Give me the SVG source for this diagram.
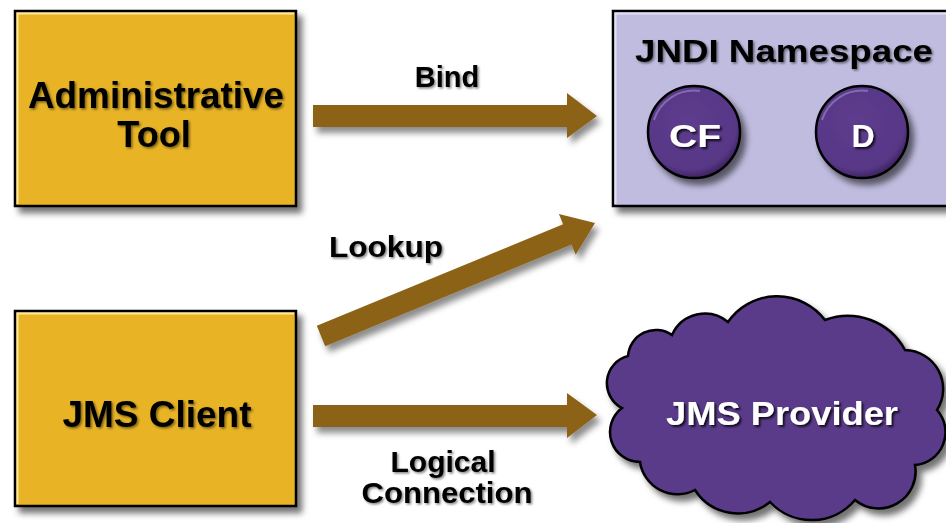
<svg xmlns="http://www.w3.org/2000/svg" width="946" height="523" viewBox="0 0 946 523">
  <style>
    .box { fill: #E8B428; stroke: #000; stroke-width: 2.5; }
    .jndi { fill: #C0BCDF; stroke: #000; stroke-width: 2.5; }
    .hl { fill: none; stroke: #FFF4C8; stroke-width: 2; opacity: 0.8; }
    .hlp { fill: none; stroke: #E6E3F6; stroke-width: 2; opacity: 0.9; }
    .arrow { fill: #8C6418; }
    .lbl { font-family: "Liberation Sans", Arial, Helvetica, sans-serif; font-weight: bold; fill: #000; text-anchor: middle; }
    .wlbl { font-family: "Liberation Sans", Arial, Helvetica, sans-serif; font-weight: bold; fill: #FFF; text-anchor: middle; }
    .obj { fill: url(#purpleGrad); stroke: #000; stroke-width: 2.5; }
  </style>
  <defs>
    <filter id="shadow" x="-10%" y="-10%" width="130%" height="130%">
      <feDropShadow dx="5" dy="6" stdDeviation="3" flood-color="#000" flood-opacity="0.55"/>
    </filter>
    <filter id="ashadow" x="-10%" y="-30%" width="130%" height="180%">
      <feDropShadow dx="4" dy="6" stdDeviation="3" flood-color="#000" flood-opacity="0.45"/>
    </filter>
    <filter id="tshadow" x="-10%" y="-20%" width="130%" height="160%">
      <feDropShadow dx="1.5" dy="1.5" stdDeviation="0.8" flood-color="#000" flood-opacity="0.5"/>
    </filter>
    <filter id="wtshadow" x="-10%" y="-20%" width="130%" height="160%">
      <feDropShadow dx="2" dy="2" stdDeviation="1" flood-color="#000" flood-opacity="0.8"/>
    </filter>
    <radialGradient id="purpleGrad" cx="0.45" cy="0.4" r="0.6">
      <stop offset="0" stop-color="#5E3C8E"/>
      <stop offset="0.85" stop-color="#573786"/>
      <stop offset="1" stop-color="#3E2462"/>
    </radialGradient>
  </defs>

  <g id="admin-tool">
    <rect class="box" x="15" y="11" width="281" height="195" filter="url(#shadow)"/>
    <path class="hl" d="M17.5 204 V13.5 H294"/>
    <g filter="url(#tshadow)">
      <text class="lbl" x="156" y="108" font-size="36" textLength="256" lengthAdjust="spacingAndGlyphs">Administrative</text>
      <text class="lbl" x="154" y="147" font-size="36">Tool</text>
    </g>
  </g>

  <g id="jms-client">
    <rect class="box" x="15" y="311" width="281" height="195" filter="url(#shadow)"/>
    <path class="hl" d="M17.5 504 V313.5 H294"/>
    <text class="lbl" x="157" y="427" font-size="36" textLength="189" lengthAdjust="spacingAndGlyphs" filter="url(#tshadow)">JMS Client</text>
  </g>

  <g id="jndi-namespace">
    <rect class="jndi" x="613" y="11" width="350" height="195" filter="url(#shadow)"/>
    <path class="hlp" d="M615.5 204 V13.5 H946"/>
    <text class="lbl" x="784" y="62" font-size="32" textLength="298" lengthAdjust="spacingAndGlyphs" filter="url(#tshadow)">JNDI Namespace</text>
  </g>

  <g id="cf">
    <circle class="obj" cx="694" cy="132" r="46" filter="url(#shadow)"/>
    <path d="M654 120 A42 42 0 0 1 700 91" fill="none" stroke="#8E78B4" stroke-width="2" opacity="0.8"/>
    <text class="wlbl" x="695" y="147" font-size="32" textLength="52" lengthAdjust="spacingAndGlyphs" filter="url(#wtshadow)">CF</text>
  </g>

  <g id="d">
    <circle class="obj" cx="862" cy="132" r="46" filter="url(#shadow)"/>
    <path d="M822 120 A42 42 0 0 1 868 91" fill="none" stroke="#8E78B4" stroke-width="2" opacity="0.8"/>
    <text class="wlbl" x="863" y="147" font-size="32" filter="url(#wtshadow)">D</text>
  </g>

  <g id="jms-provider">
    <path d="M622 408 A28 28 0 0 1 628 356 A28 28 0 0 1 672 335 A36 36 0 0 1 728 322 A60 60 0 0 1 825 320 A65 65 0 0 1 905 350 A39 39 0 0 1 937 410 A33 33 0 0 1 915 465 A37 37 0 0 1 855 500 A57 57 0 0 1 770 502 A51 51 0 0 1 695 490 A38 38 0 0 1 640 462 A30 30 0 0 1 622 408 Z" fill="#5A3A8A" stroke="#000" stroke-width="2.5" filter="url(#shadow)"/>
    <text class="wlbl" x="782" y="425" font-size="34" textLength="232" lengthAdjust="spacingAndGlyphs" filter="url(#wtshadow)">JMS Provider</text>
  </g>

  <g id="connectors">
    <g filter="url(#ashadow)">
      <polygon class="arrow" points="313,105 567,105 567,93 597,116 567,138 567,127 313,127"/>
      <polygon class="arrow" points="316.8,325.8 563.1,224.2 558.9,214.1 595,223 575.7,254.7 571.5,244.6 325.2,346.2"/>
      <polygon class="arrow" points="313,405 567,405 567,393 597,415 567,438 567,427 313,427"/>
    </g>
    <g filter="url(#tshadow)">
      <text class="lbl" x="447" y="87" font-size="29">Bind</text>
      <text class="lbl" x="386" y="257" font-size="30" textLength="114" lengthAdjust="spacingAndGlyphs">Lookup</text>
      <text class="lbl" x="443" y="472" font-size="30">Logical</text>
      <text class="lbl" x="447" y="503" font-size="30" textLength="171" lengthAdjust="spacingAndGlyphs">Connection</text>
    </g>
  </g>
</svg>
